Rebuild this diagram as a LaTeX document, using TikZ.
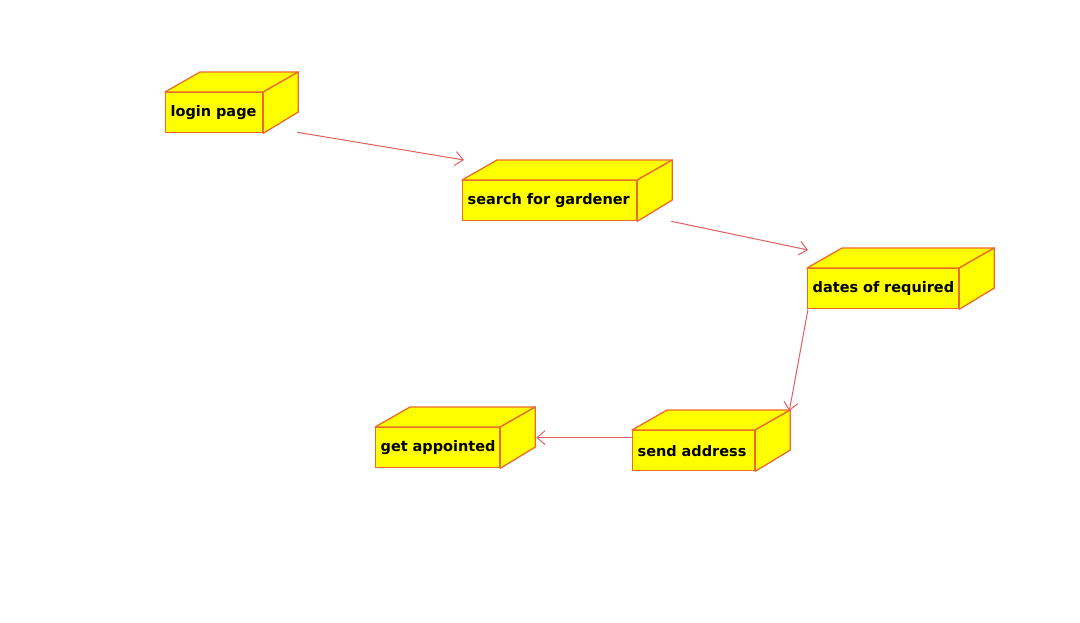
\documentclass[tikz,border=0pt]{standalone}
\usepackage{fontspec}
\setmainfont{DejaVu Sans}
\usetikzlibrary{arrows.meta,calc}
\definecolor{boxfill}{HTML}{FFFF00}
\definecolor{boxline}{HTML}{EC6A2C}
\definecolor{arrline}{HTML}{E06060}
\tikzset{
  umlbox/.style={draw=boxline, fill=boxfill, line width=1.3pt, anchor=north west,
    minimum height=40pt, inner xsep=5pt, inner ysep=0pt,
    font=\bfseries\fontsize{14.5}{17}\selectfont, text=black},
  umlface/.style={draw=boxline, fill=boxfill, line width=1.3pt, line join=round},
  flow/.style={draw=arrline, line width=1pt, -{Straight Barb[length=8pt,width=14pt,line width=1pt]}}
}
\newcommand{\umldepth}[1]{%
  \path[umlface] (#1.north west) -- ++(35,-20) -- ($(#1.north east)+(35,-20)$) -- (#1.north east) -- cycle;
  \path[umlface] (#1.north east) -- ++(35,-20) -- ++(0,40) -- (#1.south east) -- cycle;
}
\begin{document}
\begin{tikzpicture}[x=1pt,y=-1pt]
\useasboundingbox (0,0) rectangle (1080,623);
\node[umlbox, text width=87pt] (login) at (165,92) {\mbox{login page}};
\node[umlbox, text width=164pt] (search) at (462,180) {\mbox{search for gardener}};
\node[umlbox, text width=141pt] (dates) at (807,268) {\mbox{dates of required}};
\node[umlbox, text width=112pt] (send) at (632,430) {\mbox{send address}};
\node[umlbox, text width=114pt] (get) at (375,427) {\mbox{get appointed}};
\umldepth{login}
\umldepth{search}
\umldepth{dates}
\umldepth{send}
\umldepth{get}
\draw[flow] ($(login.south east)+(34,-1)$) -- ($(search.north west)+(2,-20)$);
\draw[flow] ($(search.south east)+(34,0)$) -- ($(dates.north west)+(1,-18)$);
\draw[flow] ($(dates.south west)+(1,0)$) -- ($(send.north east)+(34,-19)$);
\draw[flow] ($(send.west)+(0,-13)$) -- ($(get.east)+(36,-10)$);
\end{tikzpicture}
\end{document}
